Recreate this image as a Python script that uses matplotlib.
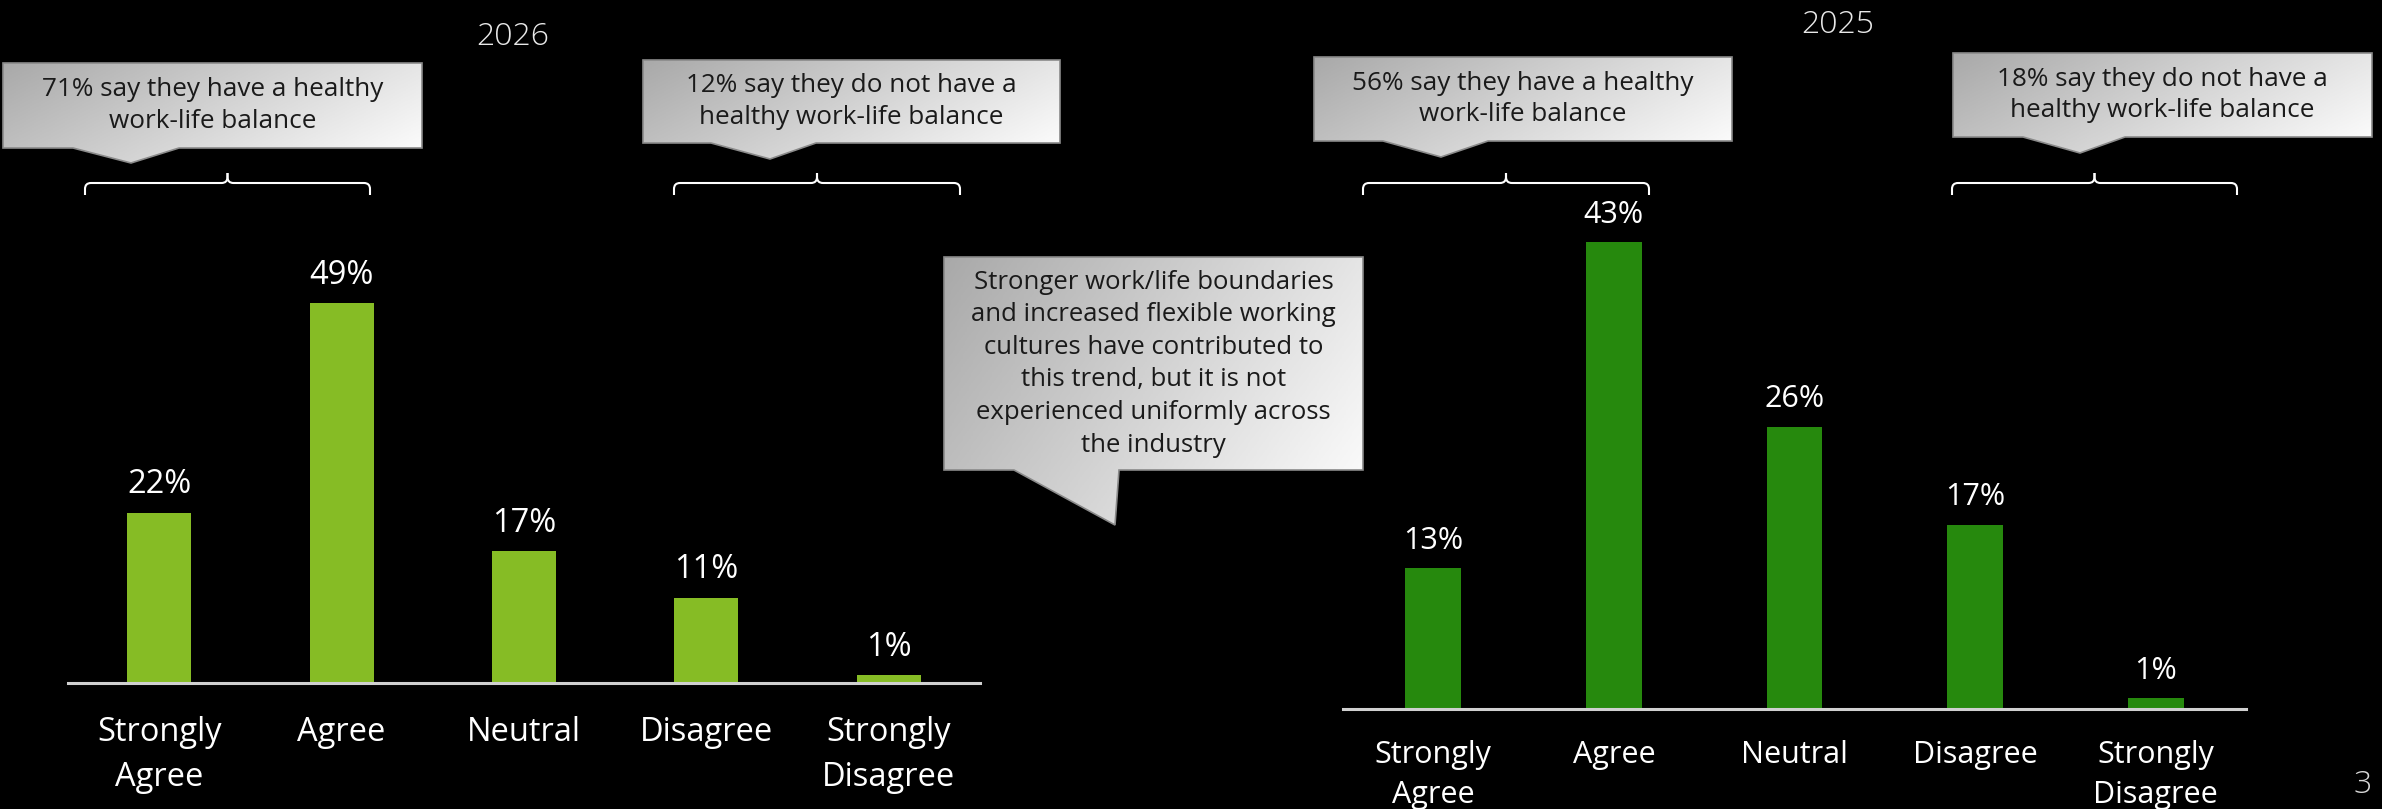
import matplotlib.pyplot as plt
import numpy as np
from matplotlib.path import Path
from matplotlib.patches import PathPatch
from matplotlib.colors import LinearSegmentedColormap

plt.rcParams['font.family'] = ['Open Sans', 'DejaVu Sans']

W, H = 2382, 809

categories = ['Strongly\nAgree', 'Agree', 'Neutral', 'Disagree', 'Strongly\nDisagree']
share_2026 = [22, 49, 17, 11, 1]
share_2025 = [13, 43, 26, 17, 1]
years = ['2026', '2025']

callout_texts = [
    "71% say they have a healthy\nwork-life balance",
    "12% say they do not have a\nhealthy work-life balance",
    "56% say they have a healthy\nwork-life balance",
    "18% say they do not have a\nhealthy work-life balance",
]
middle_text = ("Stronger work/life boundaries\nand increased flexible working\n"
               "cultures have contributed to\nthis trend, but it is not\n"
               "experienced uniformly across\nthe industry")

fig = plt.figure(figsize=(W / 100, H / 100), dpi=100, facecolor='black')


def px_axes(left, right, baseline, height):
    """Axes placed in pixel coordinates (y measured from the top)."""
    return fig.add_axes([left / W, 1 - baseline / H, (right - left) / W, height / H])


def bar_panel(ax, values, color, width, ymax, fs, pad, linespacing):
    x = np.arange(len(values))
    bars = ax.bar(x, values, width=width, color=color, zorder=2)
    for b, v in zip(bars, values):
        ax.annotate(f'{v}%', (b.get_x() + b.get_width() / 2, b.get_height()),
                    xytext=(0, 14), textcoords='offset points',
                    ha='center', va='baseline', color='white', fontsize=fs)
    ax.set_xlim(-0.5, len(values) - 0.5)
    ax.set_ylim(0, ymax)
    ax.set_facecolor('none')
    for s in ['top', 'right', 'left']:
        ax.spines[s].set_visible(False)
    ax.spines['bottom'].set_color('#d0d0d0')
    ax.spines['bottom'].set_linewidth(2.2)
    ax.set_yticks([])
    ax.set_xticks(x)
    ax.set_xticklabels(categories, color='white', fontsize=fs, linespacing=linespacing)
    ax.tick_params(axis='x', length=0, pad=pad)


# 2026 panel: 7.75 px per percentage point
ax1 = px_axes(68, 980, 683, 60 * 7.75)
bar_panel(ax1, share_2026, '#86BC25', 0.35, 60, 23.5, 24, 1.45)

# 2025 panel: 10.85 px per percentage point
ax2 = px_axes(1343, 2246, 709, 50 * 10.85)
bar_panel(ax2, share_2025, '#26890D', 0.31, 50, 22, 22, 1.45)

# overlay for callouts, braces and headings (pixel coordinates)
ov = fig.add_axes([0, 0, 1, 1])
ov.set_facecolor('none')
ov.axis('off')
ov.set_autoscale_on(False)
ov.set_xlim(0, W)
ov.set_ylim(H, 0)

grad_cmap = LinearSegmentedColormap.from_list('callout', ['#a9a9a9', '#ffffff'])


def callout(box, pointer, text, fs, linespacing):
    x0, y0, x1, y1 = box
    bl, (tx, ty), br = pointer
    verts = [(x0, y0), (x1, y0), (x1, y1), (br, y1), (tx, ty), (bl, y1),
             (x0, y1), (x0, y0)]
    path = Path(verts, closed=True)
    patch = PathPatch(path, facecolor='none', edgecolor='#8a8a8a', lw=1.2, zorder=3)
    ov.add_patch(patch)
    yb = max(y1, ty)
    xx, yy = np.meshgrid(np.linspace(0, 1, 200), np.linspace(0, 1, 100))
    g = 0.7 * xx + 0.3 * yy
    im = ov.imshow(g, cmap=grad_cmap, extent=(x0, x1, yb, y0), origin='upper',
                   aspect='auto', zorder=2, vmin=0, vmax=1)
    im.set_clip_path(patch)
    ov.text((x0 + x1) / 2, (y0 + y1) / 2, text, ha='center', va='center',
            fontsize=fs, color='#1a1a1a', linespacing=linespacing, zorder=4)


def brace(x1, x2, y, yend=195, ytip=173, r=6):
    xm = (x1 + x2) / 2
    for a, s in [(x1, 1), (x2, -1)]:
        verts = [(a, yend), (a, y + r), (a, y), (a + s * r, y),
                 (xm - s * r, y), (xm, y), (xm, y - r), (xm, ytip)]
        codes = [Path.MOVETO, Path.LINETO, Path.CURVE3, Path.CURVE3,
                 Path.LINETO, Path.CURVE3, Path.CURVE3, Path.LINETO]
        ov.add_patch(PathPatch(Path(verts, codes), facecolor='none',
                               edgecolor='white', lw=1.5))


callout((3, 63, 422, 148), (73, (131, 163), 179), callout_texts[0], 18.8, 1.33)
callout((643, 60, 1060, 143), (711, (770, 159), 816), callout_texts[1], 18.8, 1.33)
callout((1314, 57, 1732, 141), (1383, (1441, 157), 1488), callout_texts[2], 18.8, 1.33)
callout((1953, 53, 2372, 137), (2023, (2080, 153), 2125), callout_texts[3], 18.8, 1.33)
callout((944, 257, 1363, 470), (1014, (1115, 525), 1119), middle_text, 18.5, 1.4)

brace(85, 370, 183)
brace(674, 960, 183)
brace(1363, 1649, 183)
brace(1952, 2237, 183)

ov.text(513, 45, years[0], ha='center', va='baseline', fontsize=23,
        fontweight='light', color='#e8e8e8')
ov.text(1838, 33, years[1], ha='center', va='baseline', fontsize=23,
        fontweight='light', color='#e8e8e8')
ov.text(2363, 793, '3', ha='center', va='baseline', fontsize=23,
        fontweight='light', color='#d8d8d8')

fig.savefig('out.png', dpi=100, facecolor='black')
